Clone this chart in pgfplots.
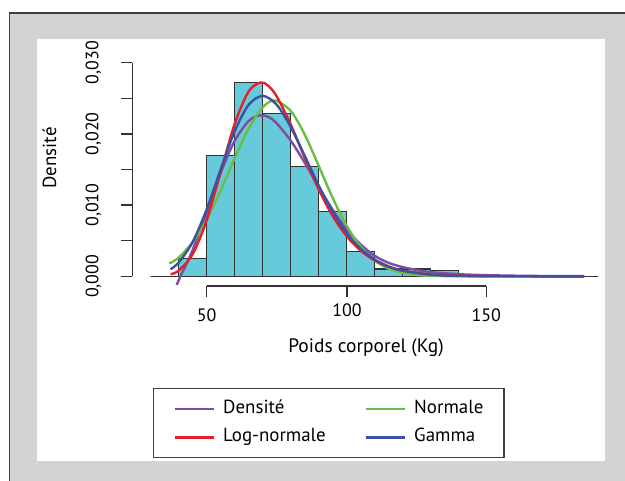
\documentclass[border=0pt]{standalone}
\usepackage{pgfplots}
\pgfplotsset{compat=1.18}
\usepackage{fontspec}
\setmainfont{PT Sans}

\definecolor{bggrey}{HTML}{D1D3D4}
\definecolor{framegrey}{HTML}{3F3F3F}
\definecolor{barfill}{HTML}{67CADB}
\definecolor{baredge}{HTML}{333333}
\definecolor{cdens}{HTML}{7D4E9F}
\definecolor{cnorm}{HTML}{6ABD45}
\definecolor{clog}{HTML}{E5202A}
\definecolor{cgam}{HTML}{3B52A3}

\begin{document}
\begin{tikzpicture}[font=\fontsize{18}{21}\selectfont]
\begin{scope}[x=1bp,y=1bp]
\useasboundingbox (0,0) rectangle (625,-481);
\fill[bggrey] (9.5,-13) rectangle (627,-483);
\draw[framegrey, line width=1.7bp] (9.5,-483) -- (9.5,-13) -- (627,-13);
\fill[white] (37,-39) rectangle (605,-460.7);
\end{scope}

\begin{axis}[
  at={(136.675bp,-290.54bp)}, anchor=south west,
  scale only axis, width=475.5bp, height=242.11bp,
  xmin=25, xmax=195, ymin=-0.002, ymax=0.032,
  axis lines=none, clip=false,
  legend columns=2,
  legend cell align=left,
  legend image code/.code={\draw[#1, line width=2.4bp] (0bp,0bp) -- (39bp,0bp);},
  legend style={
    at={(0.0335,-0.4013)}, anchor=north west,
    draw=framegrey, line width=1.4bp,
    inner xsep=20.5bp, inner ysep=6bp,
    font=\fontsize{19}{22}\selectfont,
    nodes={inner xsep=0pt, inner ysep=5.8bp, text height=13bp, text depth=4bp},
    /tikz/every odd column/.append style={column sep=8bp},
    /tikz/every even column/.append style={column sep=39bp},
  },
]
% histogram, densities per 10 kg bin
\addplot[ybar interval, fill=barfill, draw=baredge, line width=1.3bp, forget plot] coordinates {
  (30,0) (40,0.00253) (50,0.01698) (60,0.02722) (70,0.0229) (80,0.01538)
  (90,0.00907) (100,0.00345) (110,0.00102) (120,0.00104) (130,0.00086)
  (140,0) (150,0) (160,0) (170,0) (180,0) (190,0)
};
% Densite
\addplot[cdens, line width=2.4bp, smooth] coordinates {
  (39.3,-0.0012) (41,0.0003) (43,0.0019) (45,0.0037) (50,0.0089) (55,0.0145)
  (60,0.0190) (65,0.0218) (69,0.0226) (72,0.0224) (75,0.0215) (80,0.0191)
  (85,0.0160) (90,0.0126) (95,0.0094) (100,0.0066) (105,0.0045) (110,0.0029)
  (115,0.0019) (120,0.0013) (125,0.0009) (130,0.0006) (140,0.0003)
  (150,0.00016) (165,0.00006) (185,0.00002)
};
% Normale
\addplot[cnorm, line width=2.4bp, smooth] coordinates {
  (36.65,0.0018) (40,0.00262) (45,0.00478) (50,0.00795) (55,0.01203)
  (60,0.01655) (65,0.02074) (70,0.02370) (74.3,0.02470) (80,0.02325)
  (85,0.01997) (90,0.01559) (95,0.01106) (100,0.00714) (105,0.00419)
  (110,0.00223) (115,0.00108) (120,0.00048) (125,0.00019) (130,0.00007)
  (140,0.00001) (160,0) (185,0)
};
% Log-normale
\addplot[clog, line width=2.4bp, smooth] coordinates {
  (37.1,0.00029) (40,0.00080) (45,0.00309) (50,0.00785) (55,0.01459)
  (60,0.02136) (65,0.02595) (69.3,0.02722) (72,0.02676) (75,0.02531)
  (80,0.0214) (85,0.01673) (90,0.01227) (95,0.00852) (100,0.00567)
  (105,0.00363) (110,0.00225) (115,0.00136) (120,0.00081) (130,0.00027)
  (140,0.000085) (150,0.000026) (165,0.000003) (185,0)
};
% Gamma
\addplot[cgam, line width=2.4bp, smooth] coordinates {
  (37.1,0.00099) (40,0.00193) (45,0.00481) (50,0.00937) (55,0.01498)
  (60,0.02034) (65,0.02407) (70,0.02534) (75,0.02412) (80,0.02102)
  (85,0.01698) (90,0.0128) (95,0.00908) (100,0.0061) (105,0.0039)
  (110,0.00238) (115,0.0014) (120,0.00079) (130,0.00023) (140,0.00006)
  (150,0.000014) (165,0.000001) (185,0)
};
\legend{Densité, Normale, Log-normale, Gamma}
\end{axis}

\begin{scope}[x=1bp,y=1bp]
% y axis (R style)
\draw[baredge, line width=1.3bp] (132.3,-62.7) -- (132.3,-276.3);
\foreach \py in {276.3,240.7,205.1,169.5,133.9,98.3,62.7}
  \draw[baredge, line width=1.3bp] (132.3,-\py) -- (120.7,-\py);
\node[rotate=90, anchor=base, inner sep=0pt] at (98.3,-276.3) {0,000};
\node[rotate=90, anchor=base, inner sep=0pt] at (98.3,-205.1) {0,010};
\node[rotate=90, anchor=base, inner sep=0pt] at (98.3,-133.9) {0,020};
\node[rotate=90, anchor=base, inner sep=0pt] at (98.3,-62.7) {0,030};
\node[rotate=90, anchor=base, inner sep=0pt, font=\fontsize{19}{22}\selectfont] at (56,-158) {Densité};
% x axis
\draw[baredge, line width=1.3bp] (206.6,-286) -- (486.3,-286);
\foreach \px in {206.6,347,486.3}
  \draw[baredge, line width=1.3bp] (\px,-286) -- (\px,-297.3);
\node[anchor=base, inner sep=0pt] at (206.6,-321.7) {50};
\node[anchor=base, inner sep=0pt] at (347,-316.7) {100};
\node[anchor=base, inner sep=0pt] at (486.3,-321.7) {150};
\node[anchor=base, inner sep=0pt, font=\fontsize{19.5}{22}\selectfont] at (366,-352.7) {Poids corporel (Kg)};
\end{scope}
\end{tikzpicture}
\end{document}
